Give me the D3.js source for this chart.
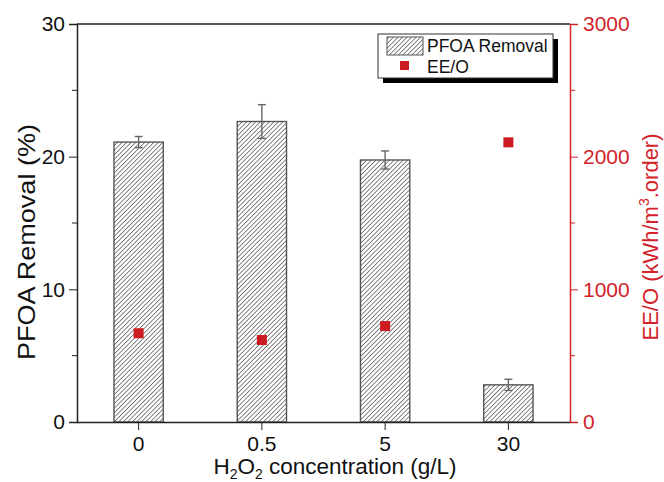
<!DOCTYPE html>
<html>
<head>
<meta charset="utf-8">
<script src="https://cdn.jsdelivr.net/npm/d3@7"></script>
<style>
  body { margin: 0; background: #fff; }
  svg text { font-family: "Liberation Sans", Arial, sans-serif; }
</style>
</head>
<body>
<div id="chart"></div>
<script>
/**
 * Data
 */
const categories = ["0", "0.5", "5", "30"];
const removal = [21.1, 22.65, 19.75, 2.8];
const removalErr = [0.42, 1.27, 0.68, 0.42];
const eeo = [669, 618, 723, 2108];
const leftTicks = [0, 10, 20, 30];
const rightTicks = [0, 1000, 2000, 3000];

/**
 * Globals
 */
const width = 664;
const height = 482;
const margin = { t: 24, r: 94, b: 60, l: 77 };
const red = "#d2232a";

var w = width - margin.l - margin.r;
var h = height - margin.t - margin.b;

var scale = {
  x: d3.scaleBand().domain(categories).range([0, w]).paddingInner(0.6).paddingOuter(0.3),
  y: d3.scaleLinear().domain([0, 30]).range([h, 0]),
  y2: d3.scaleLinear().domain([0, 3000]).range([h, 0]),
};

var svg = d3
  .select("#chart")
  .append("svg")
  .attr("width", width)
  .attr("height", height);

// hatch pattern for the bars
var defs = svg.append("defs");
defs
  .append("pattern")
  .attr("id", "hatch")
  .attr("patternUnits", "userSpaceOnUse")
  .attr("width", 3.2)
  .attr("height", 3.2)
  .attr("patternTransform", "rotate(45)")
  .append("line")
  .attr("x1", 0)
  .attr("y1", 0)
  .attr("x2", 0)
  .attr("y2", 3.2)
  .attr("stroke", "#222")
  .attr("stroke-width", 1.1);

var g = svg
  .append("g")
  .attr("transform", "translate(" + margin.l + "," + margin.t + ")");

// bars
g.selectAll(".bar")
  .data(categories)
  .enter()
  .append("rect")
  .attr("class", "bar")
  .attr("x", function (d) {
    return scale.x(d);
  })
  .attr("y", function (d, i) {
    return scale.y(removal[i]);
  })
  .attr("width", scale.x.bandwidth())
  .attr("height", function (d, i) {
    return h - scale.y(removal[i]);
  })
  .attr("fill", "url(#hatch)")
  .attr("stroke", "#555")
  .attr("stroke-width", 1.4);

// error bars
var err = g
  .selectAll(".err")
  .data(categories)
  .enter()
  .append("g")
  .attr("class", "err")
  .attr("stroke", "#666")
  .attr("stroke-width", 1.4);

err.append("line")
  .attr("x1", function (d) { return scale.x(d) + scale.x.bandwidth() / 2; })
  .attr("x2", function (d) { return scale.x(d) + scale.x.bandwidth() / 2; })
  .attr("y1", function (d, i) { return scale.y(removal[i] + removalErr[i]); })
  .attr("y2", function (d, i) { return scale.y(removal[i] - removalErr[i]); });

[1, -1].forEach(function (s) {
  err.append("line")
    .attr("x1", function (d) { return scale.x(d) + scale.x.bandwidth() / 2 - 4; })
    .attr("x2", function (d) { return scale.x(d) + scale.x.bandwidth() / 2 + 4; })
    .attr("y1", function (d, i) { return scale.y(removal[i] + s * removalErr[i]); })
    .attr("y2", function (d, i) { return scale.y(removal[i] + s * removalErr[i]); });
});

// EE/O points
g.selectAll(".pt")
  .data(categories)
  .enter()
  .append("rect")
  .attr("class", "pt")
  .attr("x", function (d) { return scale.x(d) + scale.x.bandwidth() / 2 - 5; })
  .attr("y", function (d, i) { return scale.y2(eeo[i]) - 5; })
  .attr("width", 10)
  .attr("height", 10)
  .attr("fill", "#cc1c22");

// top frame line
g.append("line")
  .attr("x1", 0)
  .attr("x2", w)
  .attr("y1", 0)
  .attr("y2", 0)
  .attr("stroke", "#222")
  .attr("stroke-width", 1.5);

// axes
function minorTicks(sc, step) {
  var out = [];
  var dom = sc.domain();
  for (var v = dom[0] + step / 2; v < dom[1]; v += step) out.push(v);
  return out;
}

var yAxis = g.append("g").attr("class", "y axis");
yAxis.call(d3.axisLeft(scale.y).tickValues(leftTicks).tickSize(8).tickPadding(4));
yAxis.selectAll(".minor")
  .data(minorTicks(scale.y, 10))
  .enter()
  .append("line")
  .attr("x1", -5)
  .attr("x2", 0)
  .attr("y1", function (d) { return scale.y(d); })
  .attr("y2", function (d) { return scale.y(d); })
  .attr("stroke", "#222");

var y2Axis = g.append("g").attr("class", "y2 axis").attr("transform", "translate(" + w + ",0)");
y2Axis.call(
  d3.axisRight(scale.y2).tickValues(rightTicks).tickFormat(d3.format("d")).tickSize(8).tickPadding(5)
);
y2Axis.selectAll(".minor")
  .data(minorTicks(scale.y2, 1000))
  .enter()
  .append("line")
  .attr("x1", 0)
  .attr("x2", 5)
  .attr("y1", function (d) { return scale.y2(d); })
  .attr("y2", function (d) { return scale.y2(d); })
  .attr("stroke", red);

var xAxis = g.append("g").attr("class", "x axis").attr("transform", "translate(0," + h + ")");
xAxis.call(d3.axisBottom(scale.x).tickSize(8).tickPadding(6));

// axis styling
g.selectAll(".axis .domain").attr("stroke-width", 1.5);
g.selectAll(".axis text").style("font-size", "21px");
g.selectAll(".y.axis path, .y.axis line, .x.axis path, .x.axis line").attr("stroke", "#222");
g.selectAll(".y.axis text, .x.axis text").attr("fill", "#111");
y2Axis.selectAll("path, line").attr("stroke", red);
y2Axis.selectAll("text").attr("fill", red);
xAxis.select(".domain").attr("d", "M0,0.5H" + w);

// axis titles
svg.append("text")
  .attr("transform", "translate(35,242) rotate(-90)")
  .attr("text-anchor", "middle")
  .attr("textLength", 236)
  .attr("lengthAdjust", "spacingAndGlyphs")
  .style("font-size", "24px")
  .attr("fill", "#111")
  .text("PFOA Removal (%)");

var t2 = svg.append("text")
  .attr("transform", "translate(658,237) rotate(-90)")
  .attr("text-anchor", "middle")
  .style("font-size", "22px")
  .attr("fill", red);
t2.append("tspan").text("EE/O (kWh/m");
t2.append("tspan").attr("dy", -9).style("font-size", "14px").text("3");
t2.append("tspan").attr("dy", 9).text(".order)");

var tx = svg.append("text")
  .attr("x", 335)
  .attr("y", 474)
  .attr("text-anchor", "middle")
  .style("font-size", "22.5px")
  .attr("fill", "#111");
tx.append("tspan").text("H");
tx.append("tspan").attr("dy", 5).style("font-size", "14px").text("2");
tx.append("tspan").attr("dy", -5).text("O");
tx.append("tspan").attr("dy", 5).style("font-size", "14px").text("2");
tx.append("tspan").attr("dy", -5).text(" concentration (g/L)");

// legend
var lg = svg.append("g").attr("transform", "translate(378,34)");
lg.append("rect")
  .attr("x", 5)
  .attr("y", 5)
  .attr("width", 175)
  .attr("height", 44)
  .attr("fill", "#000");
lg.append("rect")
  .attr("x", 0)
  .attr("y", 0)
  .attr("width", 175)
  .attr("height", 44)
  .attr("fill", "#fff")
  .attr("stroke", "#333")
  .attr("stroke-width", 1);
lg.append("rect")
  .attr("x", 9)
  .attr("y", 3)
  .attr("width", 36)
  .attr("height", 18)
  .attr("fill", "url(#hatch)")
  .attr("stroke", "#555");
lg.append("rect")
  .attr("x", 22)
  .attr("y", 27)
  .attr("width", 9)
  .attr("height", 9)
  .attr("fill", "#cc1c22");
lg.append("text")
  .attr("x", 49)
  .attr("y", 18)
  .style("font-size", "17.5px")
  .attr("fill", "#111")
  .text("PFOA Removal");
lg.append("text")
  .attr("x", 49)
  .attr("y", 39)
  .style("font-size", "17.5px")
  .attr("fill", "#111")
  .text("EE/O");
</script>
</body>
</html>
